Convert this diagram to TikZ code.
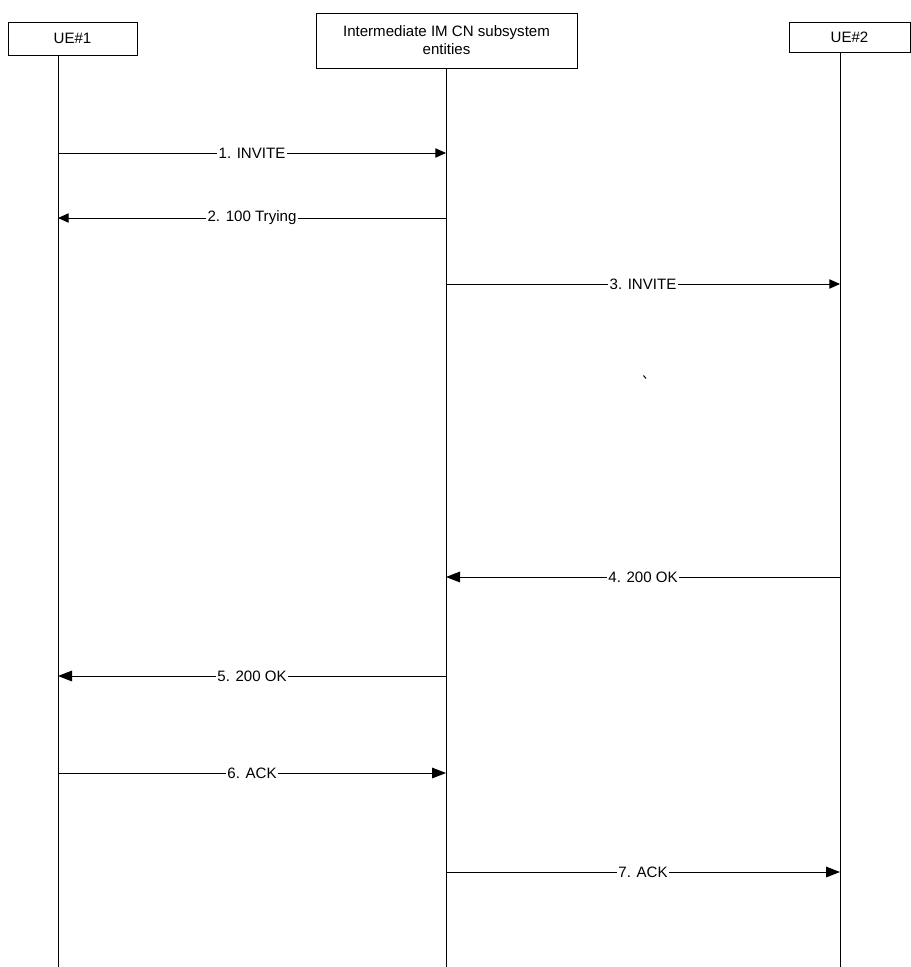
\documentclass[tikz,border=0pt]{standalone}
\usepackage{fontspec}
\setmainfont{Liberation Sans}
\usetikzlibrary{arrows.meta}
\begin{document}
\begin{tikzpicture}[x=0.75pt,y=-0.75pt,
  every node/.style={font=\fontsize{11.3}{13.5}\selectfont},
  entity/.style={draw,line width=0.75pt,inner sep=0pt,align=center},
  life/.style={line width=0.75pt},
  msg/.style={line width=0.75pt,-{Triangle[length=8pt,width=7pt]}},
  msgb/.style={line width=0.75pt,-{Triangle[length=10.5pt,width=8pt]}},
  lbl/.style={fill=white,inner sep=1pt}]
\useasboundingbox (0,0) rectangle (910,967);
% entities
\node[entity,minimum width=129*0.75pt,minimum height=33*0.75pt] (ue1) at (72.5,38.5) {UE\#1};
\node[entity,minimum width=261*0.75pt,minimum height=55*0.75pt] (im) at (446.5,40.5) {Intermediate IM CN subsystem\\entities};
\node[entity,minimum width=121*0.75pt,minimum height=30*0.75pt] (ue2) at (849.5,37) {UE\#2};
% lifeline ends
\coordinate (e1) at (58,967);
\coordinate (e2) at (446,967);
\coordinate (e3) at (840,967);
\draw[life] (ue1.south -| e1) -- (e1);
\draw[life] (im.south -| e2) -- (e2);
\draw[life] (ue2.south -| e3) -- (e3);
% message points
\foreach \n/\y in {1/153,2/218,3/284,4/577,5/676,6/773,7/872}{
  \coordinate (a\n) at (58,\y);
  \coordinate (b\n) at (446,\y);
  \coordinate (c\n) at (840,\y);
}
\draw[msg] (a1) -- node[lbl] {1. INVITE} (b1);
\draw[msg] (b2) -- node[lbl] {2. 100 Trying} (a2);
\draw[msg] (b3) -- node[lbl] {3. INVITE} (c3);
\draw[msgb] (c4) -- node[lbl] {4. 200 OK} (b4);
\draw[msgb] (b5) -- node[lbl] {5. 200 OK} (a5);
\draw[msgb] (a6) -- node[lbl] {6. ACK} (b6);
\draw[msgb] (b7) -- node[lbl] {7. ACK} (c7);
% stray mark
\draw[line width=0.75pt] (643.5,375.5) -- (646,378.5);
\end{tikzpicture}
\end{document}
